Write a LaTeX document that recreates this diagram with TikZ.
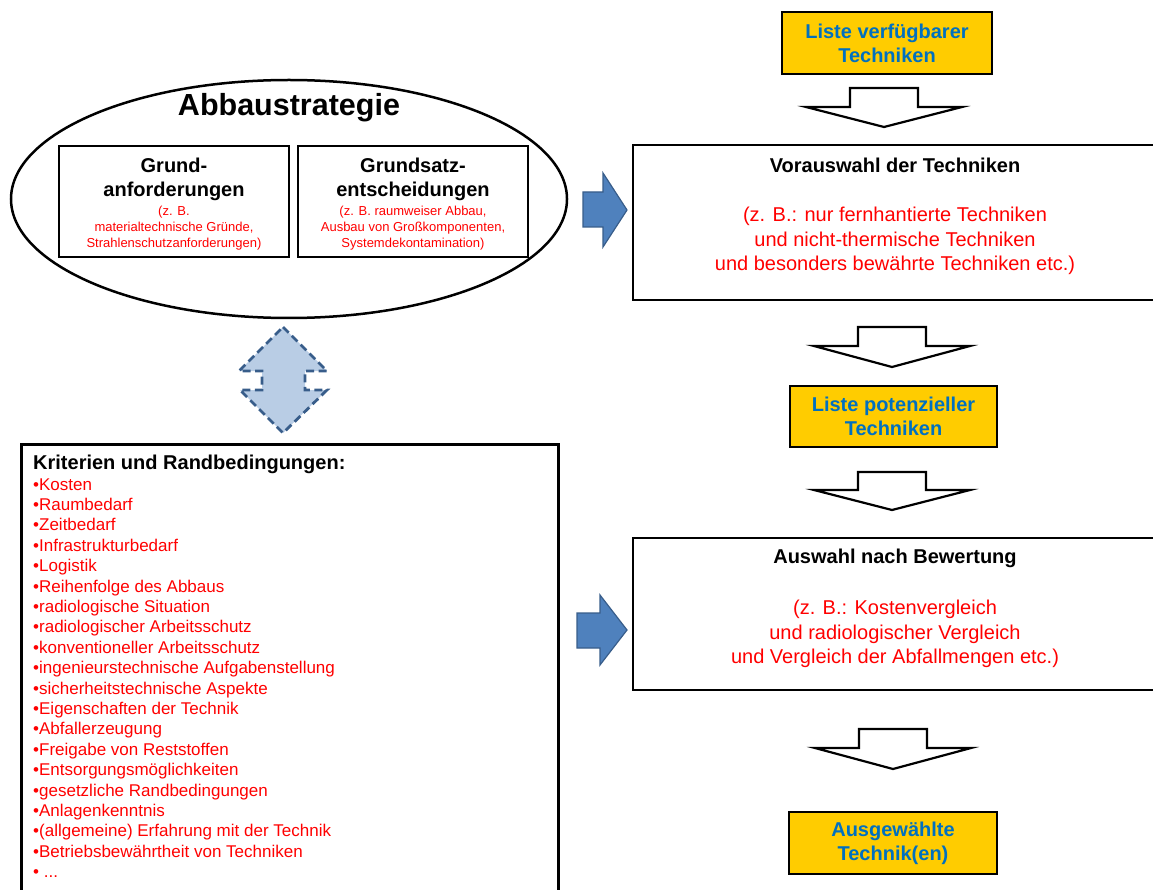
\documentclass[tikz,border=0pt]{standalone}
\usepackage{fontspec}
\setmainfont{Liberation Sans}
\usetikzlibrary{shapes.geometric}
\definecolor{ygold}{HTML}{FFCC00}
\definecolor{tblue}{HTML}{0070C0}
\definecolor{tred}{HTML}{FF0000}
\definecolor{afill}{HTML}{4F81BD}
\definecolor{aline}{HTML}{385D8A}
\definecolor{dfill}{HTML}{B9CDE5}
\newcommand\fsz[2]{\fontsize{#1}{#2}\selectfont}
\newcommand\hollowdown[4]{\draw[hollow] (#1-34,#2) -- (#1+34,#2) -- (#1+34,#3) -- (#1+78,#3) -- (#1,#4) -- (#1-78,#3) -- (#1-34,#3) -- cycle;}
\begin{document}
\begin{tikzpicture}[x=1pt,y=-1pt,
  ybox/.style={draw=black,line width=2pt,fill=ygold,inner sep=0pt,text=tblue,font=\bfseries\fsz{20}{24},align=center},
  bigbox/.style={draw=black,line width=2.5pt,inner sep=0pt},
  ibox/.style={draw=black,line width=1.3pt,inner sep=0pt},
  ttl/.style={font=\bfseries\fsz{20}{24},align=center,inner sep=0pt},
  rtext/.style={text=tred,font=\fsz{20}{24.5},align=center,inner sep=0pt},
  smallred/.style={text=tred,font=\fsz{13}{16},align=center,inner sep=0pt},
  item/.style={text=tred,font=\fsz{17}{20},anchor=base west,inner sep=0pt},
  hollow/.style={draw=black,line width=2.2pt,fill=white,line join=miter},
  barrow/.style={draw=aline,line width=1.2pt,fill=afill,line join=miter},
  darrow/.style={draw=aline,line width=2.8pt,fill=dfill,dash pattern=on 8pt off 4.5pt,line join=miter}]
\useasboundingbox (0,0) rectangle (1153,890);

% --- Abbaustrategie ellipse ---
\node[draw,ellipse,line width=2.5pt,minimum width=556pt,minimum height=238pt,inner sep=0pt] (abb) at (289,199) {};
\node[font=\bfseries\fsz{30.5}{34},inner sep=0pt] (abbt) at (289,108) {Abbaustrategie};
\node[ibox,minimum width=230pt,minimum height=111pt] (ga) at (174,201.5) {};
\node[ibox,minimum width=230pt,minimum height=111pt] (gs) at (413,201.5) {};
\node[ttl] (gat) at (174,179) {Grund-\\anforderungen};
\node[ttl] (gst) at (413,179) {Grundsatz-\\entscheidungen};
\node[smallred] (gar) at (174,228) {(z. B.\\materialtechnische Gründe,\\Strahlenschutzanforderungen)};
\node[smallred] (gsr) at (413,228) {(z. B. raumweiser Abbau,\\Ausbau von Großkomponenten,\\Systemdekontamination)};

% --- dashed double arrow ---
\draw[darrow] (283,327) -- (327,371) -- (305,371) -- (305,390) -- (327,390) -- (283,433)
  -- (240,390) -- (262,390) -- (262,371) -- (239,371) -- cycle;

% --- Kriterien box ---
\node[bigbox,minimum width=537pt,minimum height=470pt,anchor=north west] (krit) at (20,443) {};
\node[anchor=base west,inner sep=0pt,font=\bfseries\fsz{20}{24}] (kt) at (33,469) {Kriterien und Randbedingungen:};
\foreach \t [count=\i] in {Kosten,Raumbedarf,Zeitbedarf,Infrastrukturbedarf,Logistik,Reihenfolge des Abbaus,radiologische Situation,radiologischer Arbeitsschutz,konventioneller Arbeitsschutz,ingenieurstechnische Aufgabenstellung,sicherheitstechnische Aspekte,Eigenschaften der Technik,Abfallerzeugung,Freigabe von Reststoffen,Entsorgungsmöglichkeiten,gesetzliche Randbedingungen,Anlagenkenntnis,{(allgemeine) Erfahrung mit der Technik},Betriebsbewährtheit von Techniken}
  \node[item] (k\i) at (33,{490+20.4*(\i-1)}) {•\t};
\node[item] (k20) at (33,{490+20.4*19}) {• ...};

% --- right column ---
\node[ybox,minimum width=210pt,minimum height=62pt] (y1) at (887,43) {Liste verfügbarer\\Techniken};
\node[bigbox,minimum width=524pt,minimum height=155pt] (vor) at (895,222.5) {};
\node[ttl] (vort) at (895,165) {Vorauswahl der Techniken};
\node[rtext] (vorr) at (895,241) {(z. B.: nur fernhantierte Techniken\\und nicht-thermische Techniken\\und besonders bewährte Techniken etc.)};
\node[ybox,minimum width=207pt,minimum height=61pt] (y2) at (893.5,416.5) {Liste potenzieller\\Techniken};
\node[bigbox,minimum width=524pt,minimum height=152pt] (ausw) at (895,614) {};
\node[ttl] (auswt) at (895,558) {Auswahl nach Bewertung};
\node[rtext] (auswr) at (895,634) {(z. B.: Kostenvergleich\\und radiologischer Vergleich\\und Vergleich der Abfallmengen etc.)};
\node[ybox,minimum width=208pt,minimum height=62pt] (y3) at (893,843) {Ausgewählte\\Technik(en)};

% --- hollow down arrows ---
\hollowdown{884}{88}{107}{127}
\hollowdown{892}{327}{346}{367}
\hollowdown{892}{472}{490}{510}
\hollowdown{893}{729}{748}{769}

% --- blue arrows ---
\draw[barrow] (583,192) -- (603,192) -- (603,173) -- (627,210) -- (603,247) -- (603,227) -- (583,227) -- cycle;
\draw[barrow] (577,613) -- (600,613) -- (600,595) -- (627,630) -- (600,665) -- (600,648) -- (577,648) -- cycle;
\end{tikzpicture}
\end{document}
